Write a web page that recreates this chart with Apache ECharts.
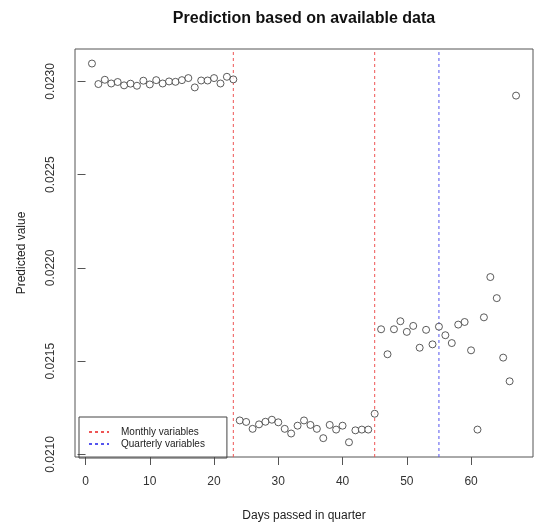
<!DOCTYPE html>
<html>
<head>
<meta charset="utf-8">
<script src="https://cdn.jsdelivr.net/npm/echarts@6/dist/echarts.min.js"></script>
<style>
  html, body { margin: 0; padding: 0; background: #fff; }
  #chart { width: 534px; height: 527px; }
</style>
</head>
<body>
<div id="chart"></div>
<script>
// days passed in quarter (1..67)
const days = [
  1, 2, 3, 4, 5, 6, 7, 8, 9, 10, 11, 12, 13, 14, 15, 16, 17, 18, 19, 20,
  21, 22, 23, 24, 25, 26, 27, 28, 29, 30, 31, 32, 33, 34, 35, 36, 37, 38, 39, 40,
  41, 42, 43, 44, 45, 46, 47, 48, 49, 50, 51, 52, 53, 54, 55, 56, 57, 58, 59, 60,
  61, 62, 63, 64, 65, 66, 67
]
// predicted value per day
const predicted = [
  0.023096, 0.022986, 0.023009, 0.022989, 0.022997, 0.022979, 0.022988, 0.022977, 0.023004, 0.022984,
  0.023007, 0.022989, 0.023000, 0.022998, 0.023007, 0.023018, 0.022968, 0.023005, 0.023005, 0.023018,
  0.022989, 0.023025, 0.023011,
  0.021182, 0.021174, 0.021137, 0.021161, 0.021175, 0.021186, 0.021172, 0.021137, 0.021112, 0.021154,
  0.021182, 0.021158, 0.021137, 0.021087, 0.021158, 0.021133, 0.021154, 0.021065, 0.021129, 0.021133,
  0.021133, 0.021218,
  0.021671, 0.021537, 0.021671, 0.021714, 0.021657, 0.021689, 0.021572, 0.021668, 0.021590, 0.021685,
  0.021639, 0.021597, 0.021696, 0.021710, 0.021558, 0.021133, 0.021735, 0.021951, 0.021838, 0.021519,
  0.021392, 0.022924
]
// days where new variables become available
const monthlyDays = [23, 45]
const quarterlyDays = [55]
// tick labels
const xTicks = [0, 10, 20, 30, 40, 50, 60]
const yTicks = [0.0210, 0.0215, 0.0220, 0.0225, 0.0230]

// axis ranges (R style, 4% padding)
const xMin = -1.64
const xMax = 69.64
const yMin = 0.020986
const yMax = 0.023174

const font = 'Liberation Sans, Arial, sans-serif'
const red = '#ee5555'
const blue = '#5555ee'
const dash = [3, 3]

const myChart = echarts.init(document.getElementById('chart'))

// one line series per vertical marker, same name => one legend entry
function vLine (name, day, color) {
  return {
    name: name,
    type: 'line',
    data: [[day, yMin], [day, yMax]],
    symbol: 'none',
    silent: true,
    lineStyle: { color: color, type: dash, width: 1 },
    itemStyle: { color: color }
  }
}

const option = {
  backgroundColor: '#fff',
  animation: false,
  title: {
    text: 'Prediction based on available data',
    left: 299,
    top: 6,
    textAlign: 'center',
    textStyle: { fontFamily: font, fontSize: 16, fontWeight: 'bold', color: '#111' }
  },
  grid: {
    left: 75,
    right: 1,
    top: 49,
    bottom: 65,
    show: true,
    borderColor: '#555',
    borderWidth: 1,
    backgroundColor: 'transparent'
  },
  legend: {
    orient: 'vertical',
    left: 79,
    top: 417,
    selectedMode: false,
    data: [
      { name: 'Monthly variables', itemStyle: { opacity: 0 } },
      { name: 'Quarterly variables', itemStyle: { opacity: 0 } }
    ],
    itemWidth: 20,
    itemHeight: 10,
    itemGap: 2,
    padding: [10, 22, 9, 9],
    borderColor: '#444',
    borderWidth: 1,
    textStyle: { fontFamily: font, fontSize: 10, color: '#222', padding: [0, 0, 0, 7] }
  },
  xAxis: {
    type: 'value',
    min: xMin,
    max: xMax,
    name: 'Days passed in quarter',
    nameLocation: 'middle',
    nameGap: 53,
    nameTextStyle: { fontFamily: font, fontSize: 12, color: '#222' },
    axisLine: { show: false },
    axisTick: { show: true, length: 8, customValues: xTicks, lineStyle: { color: '#555' } },
    axisLabel: {
      customValues: xTicks,
      margin: 19,
      fontFamily: font,
      fontSize: 12,
      color: '#333'
    },
    splitLine: { show: false }
  },
  yAxis: {
    type: 'value',
    min: yMin,
    max: yMax,
    name: 'Predicted value',
    nameLocation: 'middle',
    nameGap: 47,
    nameRotate: 90,
    nameTextStyle: { fontFamily: font, fontSize: 12, color: '#222' },
    axisLine: { show: false },
    axisTick: { show: true, length: 8, customValues: yTicks, lineStyle: { color: '#555' } },
    axisLabel: {
      customValues: yTicks,
      rotate: 90,
      margin: 18,
      fontFamily: font,
      fontSize: 12,
      color: '#333',
      formatter: v => v.toFixed(4)
    },
    splitLine: { show: false }
  },
  series: [
    {
      name: 'Predicted',
      type: 'scatter',
      symbol: 'circle',
      symbolSize: 7,
      itemStyle: { color: '#fff', borderColor: '#333', borderWidth: 1 },
      data: days.map((d, i) => [d, predicted[i]]),
      z: 3
    }
  ]
    .concat(monthlyDays.map(d => vLine('Monthly variables', d, red)))
    .concat(quarterlyDays.map(d => vLine('Quarterly variables', d, blue)))
}

myChart.setOption(option)
</script>
</body>
</html>
